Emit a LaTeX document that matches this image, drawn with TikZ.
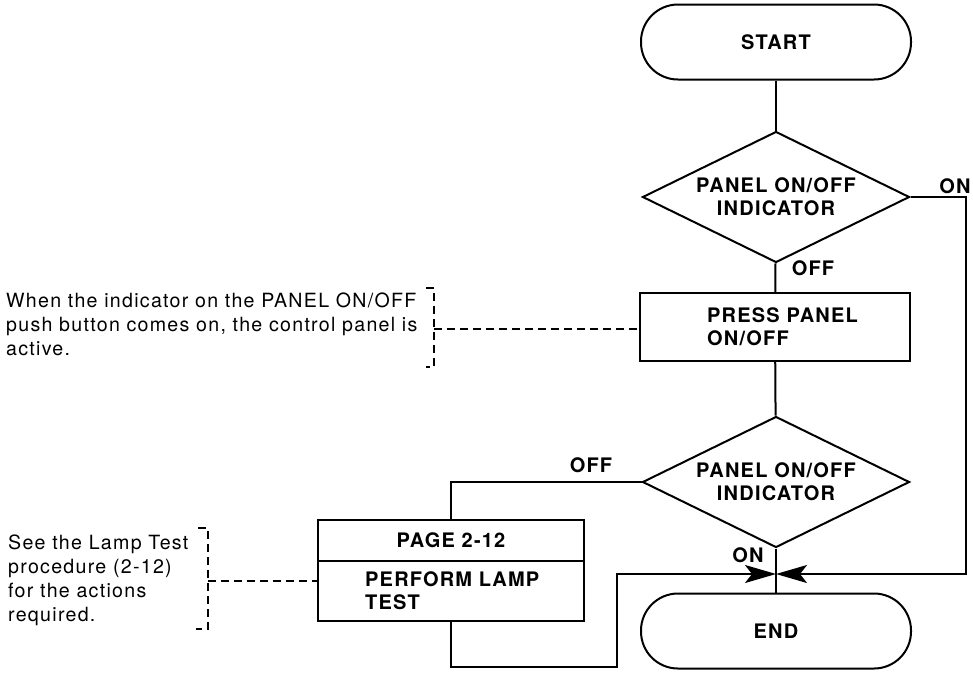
\documentclass[tikz,border=0pt]{standalone}
\usepackage{fontspec}
\setmainfont{TeX Gyre Heros}
\newfontfamily\lblfont{TeX Gyre Heros}[LetterSpace=6]
\newfontfamily\txtfont{TeX Gyre Heros}[LetterSpace=6.5]
\usetikzlibrary{shapes.geometric,arrows.meta}
\tikzset{
  lab/.style={font=\lblfont\bfseries\fontsize{20}{23}\selectfont},
  txt/.style={font=\txtfont\fontsize{19.6}{24}\selectfont, align=left, inner sep=0pt},
  term/.style={draw, line width=2pt, rounded corners=37pt, minimum width=270pt, minimum height=75pt, lab},
  dia/.style={draw, line width=2pt, diamond, aspect=2.04, minimum width=267pt, minimum height=131pt, inner sep=0pt, align=center, lab},
  boxx/.style={draw, line width=2pt, inner sep=0pt},
  conn/.style={line width=2pt},
  tip/.style={-{Stealth[length=31pt 0,width=18pt 0,inset=7pt 0]}},
  dline/.style={line width=1.8pt, dash pattern=on 8pt off 5pt},
}
\begin{document}
\begin{tikzpicture}[x=1pt,y=-1pt]
\useasboundingbox (0,0) rectangle (973,673);
% nodes
\node[term] (start) at (776,42) {START};
\node[dia] (d1) at (776,197) {PANEL ON/OFF\\INDICATOR};
\node[boxx, minimum width=270pt, minimum height=68pt] (press) at (775,327) {};
\node[lab, anchor=west, align=left, inner sep=0pt] (presst) at (707,327) {PRESS PANEL\\ON/OFF};
\node[dia] (d2) at (776,482) {PANEL ON/OFF\\INDICATOR};
\node[boxx, minimum width=266pt, minimum height=41pt] (page) at (451,540.5) {};
\node[lab] (paget) at (451,540) {PAGE 2-12};
\node[boxx, minimum width=266pt, minimum height=60pt] (perf) at (451,591) {};
\node[lab, anchor=west, align=left, inner sep=0pt] (perft) at (365,591) {PERFORM LAMP\\TEST};
\node[term] (end) at (776,631) {END};
% labels
\node[lab] (lon1) at (955,186) {ON};
\node[lab] (loff1) at (813,268) {OFF};
\node[lab] (loff2) at (591,465) {OFF};
\node[lab] (lon2) at (748,555) {ON};
% side notes
\node[txt, anchor=west] (note1) at (6,324) {When the indicator on the PANEL ON/OFF\\push button comes on, the control panel is\\active.};
\node[txt, anchor=west] (note2) at (8,580) {See the Lamp Test\\procedure (2-12)\\for the actions\\required.};
% coordinates
\coordinate (j) at (776,574);
\coordinate (rc) at (966,574);
\coordinate (b2) at (617,667);
\coordinate (k1a) at (426,288);
\coordinate (k1b) at (434,288);
\coordinate (k1c) at (434,367);
\coordinate (k1d) at (426,367);
\coordinate (k1m) at (434,329);
\coordinate (press-in) at (640,329);
\coordinate (k2a) at (198,528);
\coordinate (k2b) at (208,528);
\coordinate (k2c) at (208,629);
\coordinate (k2d) at (196,629);
\coordinate (k2m) at (208,581);
\coordinate (lampin) at (318,581);
% connectors
\draw[conn] (start) -- (d1);
\draw[conn] (d1) -- (press);
\draw[conn] (press) -- (d2);
\draw[conn] (d2) -- (end);
\draw[conn, tip] (d1.east) -| (rc) -- (j);
\draw[conn] (d2.west) -| (page.north);
\draw[conn, tip] (perf.south) |- (b2) |- (j);
% brackets
\draw[dline] (k1a) -- (k1b) -- (k1c) -- (k1d);
\draw[dline] (k1m) -- (press-in);
\draw[dline] (k2a) -- (k2b) -- (k2c) -- (k2d);
\draw[dline] (k2m) -- (lampin);
\end{tikzpicture}
\end{document}
